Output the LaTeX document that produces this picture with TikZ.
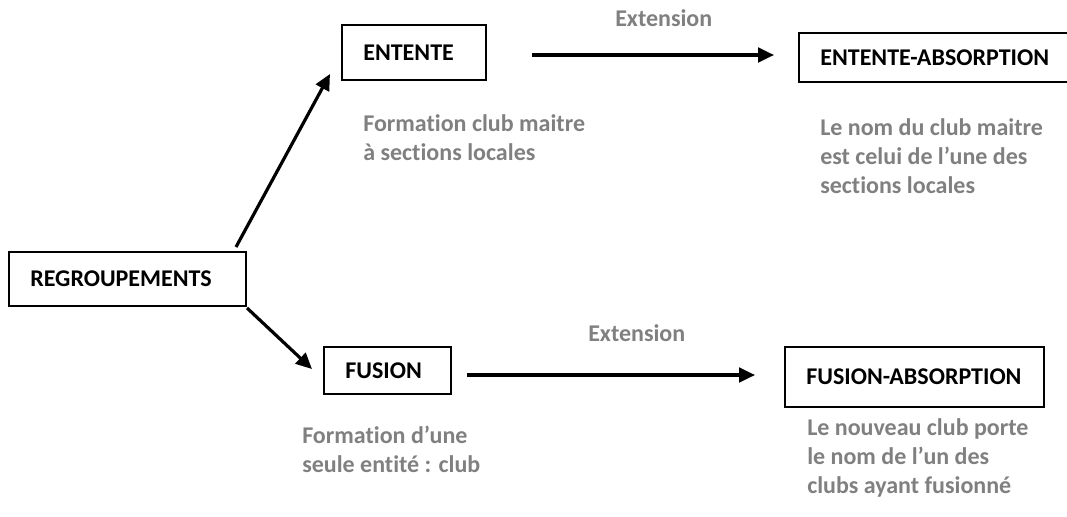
\documentclass[tikz,border=0pt]{standalone}
\usepackage{fontspec}
\setmainfont{Carlito}[Ligatures=NoCommon]
\usetikzlibrary{arrows.meta}
\definecolor{notegray}{RGB}{128,128,128}
\tikzset{box/.style={draw=black, line width=1.5pt, inner xsep=16pt, inner ysep=0pt, outer sep=0pt, align=left,
font=\fontsize{18}{21.75}\selectfont\bfseries},
%notes are anchored on the baseline of their last line
note/.style={text=notegray, inner sep=0pt, align=left, anchor=base west,
font=\fontsize{18}{21.75}\selectfont\bfseries},
%default arrow: thick line, filled triangle tip
arr/.style={-{Triangle[length=12pt,width=11pt]}, line width=2.4pt}}

\begin{document}
\begin{tikzpicture}[x=0.75pt,y=-0.75pt]
\useasboundingbox (0,0) rectangle (1067,517);

% boxes
\node[box, text width=145.75pt, minimum height=40.5pt] (regroup) at (127.5,279) {REGROUPEMENTS};
\node[box, text width=76pt, minimum height=41.25pt] (entente) at (414,52.5) {ENTENTE};
\node[box, text width=178.75pt, minimum height=36.75pt] (entabs) at (939.5,58) {ENTENTE-ABSORPTION};
\node[box, text width=63.25pt, minimum height=35.25pt] (fusion) at (387.5,370.5) {FUSION};
\node[box, text width=162.25pt, minimum height=45pt] (fusabs) at (914.5,377) {FUSION-ABSORPTION};

% arrows
\draw[arr] ([xshift=-7.5pt,yshift=3.75pt]regroup.north east) -- ([xshift=-9pt,yshift=4.5pt]entente.south west);
\draw[arr] ([xshift=0.75pt,yshift=-1.5pt]regroup.south east) -- ([xshift=-9pt,yshift=1.1pt]fusion.west);
\coordinate (entext) at ([yshift=-1.875pt]entente.east);
\coordinate (fusext) at ([yshift=-3.375pt]fusion.east);
\draw[arr, shorten <=34.5pt, shorten >=18.75pt] (entext) -- (entext -| entabs.west);
\draw[arr, shorten <=12pt, shorten >=22.5pt] (fusext) -- (fusext -| fusabs.west);

%labels
\node[note] (extup) at (615,27) {Extension};
\node[note] (extdown) at (588,341) {Extension};
\node[note] (entnote) at (363,160) {Formation club maitre\\à sections locales};
\node[note] (entabsnote) at (820,193) {Le nom du club maitre\\est celui de l’une des\\sections locales};
\node[note] (fusnote) at (302,472) {Formation d’une\\seule entité : club};
\node[note] (fusabsnote) at (807,493) {Le nouveau club porte\\le nom de l’un des\\clubs ayant fusionné};

\end{tikzpicture}
\end{document}
